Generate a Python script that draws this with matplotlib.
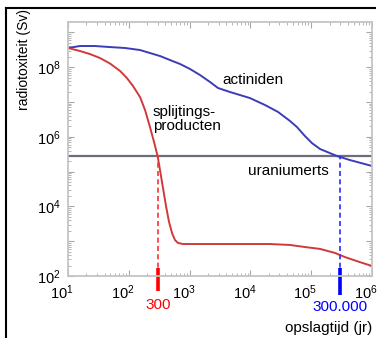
import matplotlib
matplotlib.use("Agg")
import matplotlib.pyplot as plt
import matplotlib.transforms as mtransforms
import numpy as np
from matplotlib.ticker import LogLocator, FuncFormatter
from matplotlib.lines import Line2D

plt.rcParams["font.family"] = ["Liberation Sans", "DejaVu Sans"]
plt.rcParams["mathtext.default"] = "regular"

# actiniden (blauw)
act_t = [10, 15.7, 27.8, 49, 87, 153, 223, 326, 476, 695, 1016, 1483, 2170, 2930, 4620,
         9840, 17400, 28400, 44800, 58300, 79000, 103000, 140000, 265000, 434000, 1e6]
act_v = [3.57e8, 4.07e8, 4.07e8, 3.8e8, 3.57e8, 3.12e8, 2.56e8, 2.1e8, 1.61e8, 1.24e8, 8.9e7,
         5.97e7, 3.76e7, 2.53e7, 1.94e7, 1.3e7, 8.2e6, 5.2e6, 2.85e6, 1.91e6, 1.05e6, 6.6e5,
         4.46e5, 2.81e5, 2.15e5, 1.45e5]

# splijtingsproducten (rood)
spl_t = [10, 15.7, 23, 33.6, 49, 72, 93, 117, 153, 185, 223, 260, 300, 326, 365, 409, 459,
         514, 575, 645, 779, 1016, 9840, 21000, 44800, 79000, 140000, 246000, 359000, 635000, 1e6]
spl_v = [3.57e8, 2.93e8, 2.39e8, 1.84e8, 1.28e8, 7.8e7, 4.9e7, 2.9e7, 1.39e7, 5.9e6, 1.91e6,
         7.1e5, 2.63e5, 1.11e5, 3.4e4, 1.03e4, 3560, 1720, 1080, 890, 830, 830, 830, 830, 780,
         680, 600, 460, 350, 250, 194]

uranium = 2.8e5
t_300 = 300
t_300k = 300000

fig = plt.figure(figsize=(3.8, 3.38), dpi=100)
ax = fig.add_axes([68 / 380, 1 - 276 / 338, 304 / 380, 254 / 338])

ax.set_xscale("log")
ax.set_yscale("log")
ax.set_xlim(10, 1e6)
ax.set_ylim(1e2, 10 ** 9.3)

ax.axhline(uranium, color="#6c6c7c", lw=1.6)
ax.plot(act_t, act_v, color="#3c3cb8", lw=1.4)
ax.plot(spl_t, spl_v, color="#d03a3a", lw=1.4)

# verticale stippellijnen
ax.plot([t_300, t_300], [1e2, uranium], color="#ff3030", lw=1.2, ls=(0, (3, 2)))
ax.plot([t_300k, t_300k], [1e2, uranium], color="#2a2aff", lw=1.2, ls=(0, (3, 2)))
ax.plot([t_300, t_300], [10 ** 2.23, 10 ** 1.57], color="red", lw=2.6, clip_on=False, solid_capstyle="butt")
ax.plot([t_300k, t_300k], [10 ** 2.23, 10 ** 1.45], color="blue", lw=2.6, clip_on=False, solid_capstyle="butt")

ax.text(3410, 10 ** 7.63, "actiniden", fontsize=11, ha="left", va="center")
ax.text(250, 10 ** 6.5, "splijtings-\nproducten", fontsize=11, ha="left", va="center", linespacing=1.0)
ax.text(9100, 10 ** 5.02, "uraniumerts", fontsize=11, ha="left", va="center")

trans = ax.get_xaxis_transform()
ax.text(t_300, -0.116, "300", color="red", fontsize=11, ha="center", va="center", transform=trans)
ax.text(t_300k, -0.124, "300.000", color="blue", fontsize=11, ha="center", va="center", transform=trans)
ax.text(1.0, -0.205, "opslagtijd (jr)", fontsize=11, ha="right", va="center", transform=ax.transAxes)

fig.text(24 / 380, 1 - 60 / 338, "radiotoxiteit (Sv)", fontsize=10, rotation=90, ha="center", va="center")

# assen
ax.xaxis.set_major_locator(LogLocator(base=10, numticks=20))
ax.yaxis.set_major_locator(LogLocator(base=10, numticks=20))
ax.xaxis.set_minor_locator(LogLocator(base=10, subs=np.arange(2, 10), numticks=100))
ax.yaxis.set_minor_locator(LogLocator(base=10, subs=np.arange(2, 10), numticks=100))
ax.xaxis.set_major_formatter(FuncFormatter(lambda v, p: "$10^{%d}$" % round(np.log10(v))))
ax.yaxis.set_major_formatter(FuncFormatter(
    lambda v, p: "$10^{%d}$" % round(np.log10(v)) if round(np.log10(v)) % 2 == 0 else ""))
ax.tick_params(which="both", direction="in", top=True, right=True, color="#a8a8a8", labelsize=10.5)
ax.tick_params(which="major", length=4, pad=5)
ax.tick_params(which="minor", length=2)
for s in ax.spines.values():
    s.set_color("#c4c4c4")
    s.set_linewidth(1.3)

# x-labels staan iets naar links in het origineel
shift = mtransforms.ScaledTranslation(-6 / 100, 0, fig.dpi_scale_trans)
for lbl in ax.get_xticklabels():
    lbl.set_transform(lbl.get_transform() + shift)

# kader
fig.add_artist(Line2D([6 / 380, 375 / 380], [1 - 8 / 338, 1 - 8 / 338], color="black", lw=1.5))
fig.add_artist(Line2D([6 / 380, 6 / 380], [1 - 8 / 338, 0], color="black", lw=1.5))

fig.savefig("out.png", dpi=100)
